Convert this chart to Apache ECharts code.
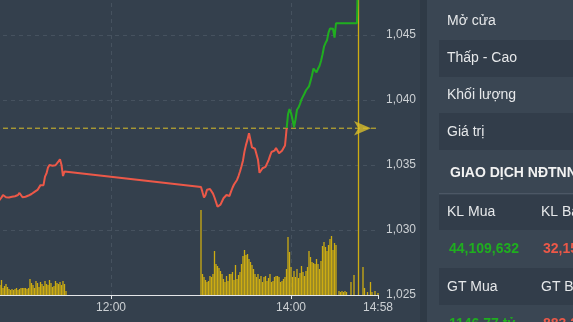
<!DOCTYPE html>
<html>
<head>
<meta charset="utf-8">
<script src="https://cdn.jsdelivr.net/npm/echarts@6/dist/echarts.min.js"></script>
<style>
html,body{margin:0;padding:0;background:#34404d;}
#chart{width:573px;height:322px;}
</style>
</head>
<body>
<div id="chart"></div>
<script>
// ---- data (time in minutes from midnight) ----
const referencePrice = 1037.83;
const morningStart = 645;
const morningPrices = [1032.2, 1032.31, 1032.5, 1032.69, 1032.6, 1032.52, 1032.48, 1032.5, 1032.52, 1032.55,
  1032.56, 1032.6, 1032.64, 1032.69, 1032.85, 1032.7, 1032.52, 1032.54, 1032.56, 1032.58,
  1032.65, 1032.7, 1032.77, 1032.85, 1032.93, 1033.0, 1033.08, 1033.2, 1033.45, 1033.58,
  1033.45, 1034.1, 1034.35, 1034.8, 1035.0, 1034.9, 1034.95, 1035.0, 1034.98, 1034.9,
  1035.28, 1035.44, 1035.0, 1034.15, 1034.5, 1034.62];
const afternoonStart = 780;
const afternoonPrices = [1033.31, 1032.9, 1032.5, 1032.7, 1033.1, 1033.25, 1033.15, 1033.0, 1032.8, 1032.5,
  1032.15, 1031.8, 1031.75, 1031.95, 1032.1, 1032.44, 1032.55, 1032.69, 1032.65, 1032.62,
  1032.95, 1033.25, 1033.5, 1033.65, 1033.85, 1034.15, 1034.5, 1034.9, 1035.35, 1036.05,
  1036.55, 1036.95, 1037.45, 1036.9, 1036.35, 1036.2, 1036.25, 1036.1, 1035.4, 1034.4,
  1034.5, 1034.75, 1034.8, 1034.85, 1035.0, 1035.35, 1035.7, 1036.0, 1036.05, 1036.1,
  1036.3, 1036.2, 1035.9, 1036.0, 1036.1, 1036.25, 1036.5, 1037.7, 1038.9, 1039.3,
  1039.0, 1038.5, 1037.9, 1038.5, 1039.25, 1039.42, 1039.7, 1040.05, 1040.2, 1040.5,
  1040.75, 1040.9, 1041.05, 1041.45, 1041.9, 1042.42, 1042.31, 1042.12, 1042.4, 1042.62,
  1043.0, 1043.5, 1044.1, 1044.38, 1044.6, 1045.18, 1045.5, 1045.55, 1045.48, 1044.8,
  1045.9];
const atcTimes = [884, 884.5];
const atcPrices = [1045.9, 1049.0];

const morningVolStart = 646;
const morningVolumes = [10,15,7,9,11,8,6,5,6,5,6,7,5,6,7,7,7,7,6,7,16,12,10,7,14,12,8,13,11,9,14,11,10,15,12,8,9,14,12,11,13,10,14,11,4];
const afternoonVolStart = 780;
const afternoonVolumes = [85,21,18,15,13,14,19,18,21,44,
  31,29,27,24,21,16,13,19,14,21,
  21,23,15,30,16,20,23,31,39,45,
  40,41,36,33,30,26,21,18,21,16,
  19,13,18,19,14,17,21,13,14,18,
  19,19,18,13,14,16,18,26,58,43,
  28,18,24,18,26,17,22,29,23,19,
  24,28,44,38,33,32,31,36,31,26,
  34,49,53,48,44,50,56,59,45,52,
  50];
const lateVolumeTimes = [872,873,874,875,876,877,880,882,885,888,889,891,893,894,896,898];
const lateVolumes = [4,3,4,3,4,3,13,20,400,28,7,3,13,3,4,2];

const xTicks = [720, 840];
const panelLabels = ['Mở cửa', 'Thấp - Cao', 'Khối lượng', 'Giá trị'];
const foreignTitle = 'GIAO DỊCH NĐTNN';
const foreignHeaders1 = ['KL Mua', 'KL Bán'];
const foreignValues1 = ['44,109,632', '32,151,480'];
const foreignHeaders2 = ['GT Mua', 'GT Bán'];
const foreignValues2 = ['1146.77 tỷ', '883.25 tỷ'];

// ---- build series data ----
const priceData = [];
morningPrices.forEach((p, i) => priceData.push([morningStart + i, p]));
afternoonPrices.forEach((p, i) => priceData.push([afternoonStart + i, p]));
atcTimes.forEach((t, i) => priceData.push([t, atcPrices[i]]));

const volData = [];
morningVolumes.forEach((v, i) => volData.push([morningVolStart + i, v]));
afternoonVolumes.forEach((v, i) => volData.push([afternoonVolStart + i, v]));
lateVolumeTimes.forEach((t, i) => volData.push([t, lateVolumes[i]]));

const refLineData = [[600, referencePrice], [898, referencePrice]];
const gridLineData = xTicks.map(t => [[t, 1025], [t, 1050]]);

function fmtTime(v) {
  const h = Math.floor(v / 60), m = Math.round(v % 60);
  return h + ':' + (m < 10 ? '0' + m : m);
}

const FONT = '"Liberation Sans", Arial, sans-serif';
const RED = '#ec5848';
const GREEN = '#1fae1f';

const graphics = [
  {type: 'rect', shape: {x: 420, y: 0, width: 7, height: 322}, style: {fill: '#2f3a46'}, silent: true},
  {type: 'rect', shape: {x: 427, y: 0, width: 146, height: 322}, style: {fill: '#3a4653'}, silent: true},
  {type: 'rect', shape: {x: 439, y: 40, width: 134, height: 37}, style: {fill: '#323d4a'}, silent: true},
  {type: 'rect', shape: {x: 439, y: 113, width: 134, height: 37}, style: {fill: '#323d4a'}, silent: true},
  {type: 'rect', shape: {x: 439, y: 195, width: 134, height: 35}, style: {fill: '#323d4a'}, silent: true},
  {type: 'rect', shape: {x: 439, y: 268, width: 134, height: 37}, style: {fill: '#323d4a'}, silent: true},
  {type: 'rect', shape: {x: 439, y: 193, width: 134, height: 1}, style: {fill: '#4c5765'}, silent: true}
];
const labelYs = [21, 58, 95, 132];
panelLabels.forEach((t, i) => graphics.push({type: 'text', style: {text: t, x: 447, y: labelYs[i], fill: '#e6e8ea', font: '14px ' + FONT, verticalAlign: 'middle'}}));
graphics.push({type: 'text', style: {text: foreignTitle, x: 450, y: 173, fill: '#f2f2f2', font: 'bold 14px ' + FONT, verticalAlign: 'middle'}});
graphics.push({type: 'text', style: {text: foreignHeaders1[0], x: 447, y: 212, fill: '#e6e8ea', font: '14px ' + FONT, verticalAlign: 'middle'}});
graphics.push({type: 'text', style: {text: foreignHeaders1[1], x: 541, y: 212, fill: '#e6e8ea', font: '14px ' + FONT, verticalAlign: 'middle'}});
graphics.push({type: 'text', style: {text: foreignValues1[0], x: 449, y: 249, fill: GREEN, font: 'bold 14px ' + FONT, verticalAlign: 'middle'}});
graphics.push({type: 'text', style: {text: foreignValues1[1], x: 543, y: 249, fill: RED, font: 'bold 14px ' + FONT, verticalAlign: 'middle'}});
graphics.push({type: 'text', style: {text: foreignHeaders2[0], x: 447, y: 287, fill: '#e6e8ea', font: '14px ' + FONT, verticalAlign: 'middle'}});
graphics.push({type: 'text', style: {text: foreignHeaders2[1], x: 541, y: 287, fill: '#e6e8ea', font: '14px ' + FONT, verticalAlign: 'middle'}});
graphics.push({type: 'text', style: {text: foreignValues2[0], x: 449, y: 324, fill: GREEN, font: 'bold 14px ' + FONT, verticalAlign: 'middle'}});
graphics.push({type: 'text', style: {text: foreignValues2[1], x: 543, y: 324, fill: RED, font: 'bold 14px ' + FONT, verticalAlign: 'middle'}});

const chart = echarts.init(document.getElementById('chart'), null, {renderer: 'canvas'});
chart.setOption({
  backgroundColor: '#34404d',
  animation: false,
  grid: {left: -69, right: 195, top: -30, bottom: 27, containLabel: false, outerBoundsMode: 'none'},
  xAxis: {
    type: 'value', min: 600, max: 898, interval: 120,
    axisLine: {show: true, lineStyle: {color: '#e4e6e8', width: 1}},
    axisTick: {show: true, length: 4, lineStyle: {color: '#e4e6e8'}},
    axisLabel: {color: '#ccd0d4', fontSize: 12, fontFamily: FONT, margin: 7, formatter: fmtTime, showMaxLabel: true, showMinLabel: true},
    splitLine: {show: false}
  },
  yAxis: [{
    type: 'value', position: 'right', min: 1025, max: 1050, interval: 5,
    axisLine: {show: false}, axisTick: {show: false},
    axisLabel: {color: '#ccd0d4', fontSize: 12, fontFamily: FONT, margin: 8, formatter: v => v.toLocaleString('en-US')},
    splitLine: {show: true, lineStyle: {color: '#46525f', type: [4, 4]}}
  }, {
    type: 'value', min: 0, max: 325, show: false, splitLine: {show: false}
  }],
  graphic: graphics,
  series: [
    {type: 'bar', yAxisIndex: 1, data: volData, barWidth: 1.3, itemStyle: {color: '#cdac12'}, silent: true, z: 3},
    {id: 'price', type: 'line', data: priceData, showSymbol: false, lineStyle: {width: 2, color: RED}, itemStyle: {color: RED}, silent: true, z: 5},
    {type: 'lines', coordinateSystem: 'cartesian2d', silent: true, z: 1,
      lineStyle: {color: '#46525f', type: [4, 4], width: 1, opacity: 1},
      data: gridLineData.map(c => ({coords: c}))},
    {type: 'line', data: refLineData, showSymbol: false, silent: true, z: 4,
      lineStyle: {color: '#d8bd2a', type: [5, 3], width: 1}, itemStyle: {color: '#d8bd2a'}},
    {type: 'scatter', data: [[898, referencePrice]], symbol: 'arrow', symbolSize: [11, 17], symbolRotate: -90,
      symbolOffset: [-7, 0], itemStyle: {color: '#d8bd2a'}, silent: true, z: 6, clip: false}
  ]
});

// colour the price line red below / green above the reference price
const refY = chart.convertToPixel({yAxisIndex: 0}, referencePrice);
const H = 322;
const r = refY / H;
chart.setOption({
  series: [{
    id: 'price',
    lineStyle: {
      color: new echarts.graphic.LinearGradient(0, 0, 0, H, [
        {offset: 0, color: GREEN}, {offset: r, color: GREEN},
        {offset: r, color: RED}, {offset: 1, color: RED}
      ], true)
    }
  }]
});
</script>
</body>
</html>
